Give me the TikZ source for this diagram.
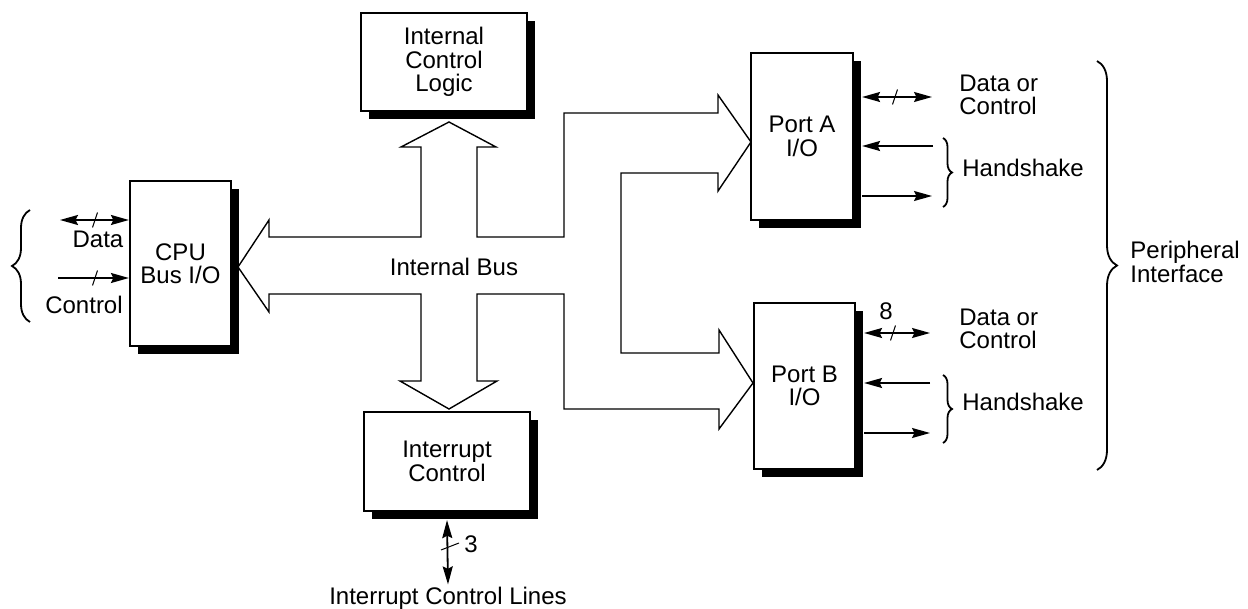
\documentclass[tikz,border=0pt]{standalone}
\usepackage{fontspec}
\setmainfont{Liberation Sans}
\usetikzlibrary{arrows.meta,shadows,decorations.pathreplacing}

\begin{document}
\begin{tikzpicture}[x=0.5pt, y=-0.5pt,
    font=\fontsize{12}{11.7}\selectfont,
    blk/.style={draw, line width=1.1pt, fill=white, align=center, inner sep=0pt,
        drop shadow={shadow xshift=4pt, shadow yshift=-4pt, opacity=1, fill=black}},
    sig/.style={line width=0.9pt, -{Stealth[length=9pt, width=5pt, inset=1.2pt]}},
    dsig/.style={line width=0.9pt, {Stealth[length=9pt, width=5pt, inset=1.2pt]}-{Stealth[length=9pt, width=5pt, inset=1.2pt]}},
    tick/.style={line width=0.5pt},
    brc/.style={decorate, line width=0.9pt},
    lbl/.style={align=left, anchor=west, inner sep=0pt}]

    \useasboundingbox (0,0) rectangle (1248,609);

    % blocks
    \node[blk, minimum width=50.5pt, minimum height=82.5pt] (cpu) at (180.5,263.5) {CPU\\Bus I/O};
    \node[blk, minimum width=83pt, minimum height=49pt] (icl) at (444,62) {Internal\\Control\\Logic};
    \node[blk, minimum width=83pt, minimum height=49.5pt] (ic) at (447,461.5) {Interrupt\\Control};
    \node[blk, minimum width=51pt, minimum height=83.5pt] (pa) at (802,136.5) {Port A\\I/O};
    \node[blk, minimum width=50.5pt, minimum height=83pt] (pb) at (804.5,386) {Port B\\I/O};

    % internal bus outline
    \draw[line width=0.7pt, line join=miter] (238,267) -- (269,220) -- (269,237) -- (421,237)
        -- (421,147) -- (401,147) -- (449,122) -- (496,147) -- (477,147) -- (477,237)
        -- (564,237) -- (564,113) -- (718,113) -- (718,95) -- (751,142) -- (718,191)
        -- (718,173) -- (621,173) -- (621,353) -- (719,353) -- (719,330) -- (753,383)
        -- (719,429) -- (719,409) -- (564,409) -- (564,294) -- (477,294) -- (477,381)
        -- (497,381) -- (449,409) -- (400,381) -- (421,381) -- (421,294) -- (269,294)
        -- (269,312) -- cycle;
    \node (bus) at (454,267) {Internal Bus};

    % cpu side
    \coordinate (dat) at (60,220);
    \coordinate (ctl) at (58,278);
    \draw[dsig] (dat) -- (dat -| cpu.west);
    \draw[sig] (ctl) -- (ctl -| cpu.west);
    \draw[tick] (97.5,212.5) -- (92.5,227.5);
    \draw[tick] (97.5,270.5) -- (92.5,285.5);
    \node (datlbl) at (98,239) {Data};
    \node (ctllbl) at (84,305) {Control};
    \draw[brc, decoration={brace, amplitude=9pt}] (30,322) -- (30,210);

    % interrupt lines
    \node[inner sep=1pt] (iclines) at (448,598) {Interrupt Control Lines};
    \draw[dsig] ([yshift=-4pt]ic.south) -- (iclines.north);
    \draw[tick] (441,550) -- (459,543);
    \node (three) at (471,544) {3};

    % port A
    \coordinate (pad) at (932,97);
    \coordinate (pahi) at (933,146);
    \coordinate (paho) at (932,196);
    \draw[dsig] ([xshift=4pt]pa.east |- pad) -- (pad);
    \draw[sig] (pahi) -- ([xshift=4pt]pa.east |- pahi);
    \draw[sig] ([xshift=4pt]pa.east |- paho) -- (paho);
    \draw[tick] (897.5,89.5) -- (892.5,104.5);
    \node[lbl] (padlbl) at (959,95) {Data or\\Control};
    \draw[brc, decoration={brace, amplitude=4.5pt}] (943,138) -- (943,207);
    \node[lbl] (pahlbl) at (962,168) {Handshake};

    % port B
    \coordinate (pbd) at (930,333);
    \coordinate (pbhi) at (930,383);
    \coordinate (pbho) at (930,433);
    \draw[dsig] ([xshift=4pt]pb.east |- pbd) -- (pbd);
    \draw[sig] (pbhi) -- ([xshift=4pt]pb.east |- pbhi);
    \draw[sig] ([xshift=4pt]pb.east |- pbho) -- (pbho);
    \draw[tick] (895.5,325.5) -- (890.5,340.5);
    \node (eight) at (886,311) {8};
    \node[lbl] (pbdlbl) at (959,329) {Data or\\Control};
    \draw[brc, decoration={brace, amplitude=4.5pt}] (943,375) -- (943,443);
    \node[lbl] (pbhlbl) at (962,402) {Handshake};

    % peripheral side
    \draw[brc, decoration={brace, amplitude=10pt}] (1097,61) -- (1097,470);
    \node[lbl] (perif) at (1130,262) {Peripheral\\Interface};
\end{tikzpicture}
\end{document}
